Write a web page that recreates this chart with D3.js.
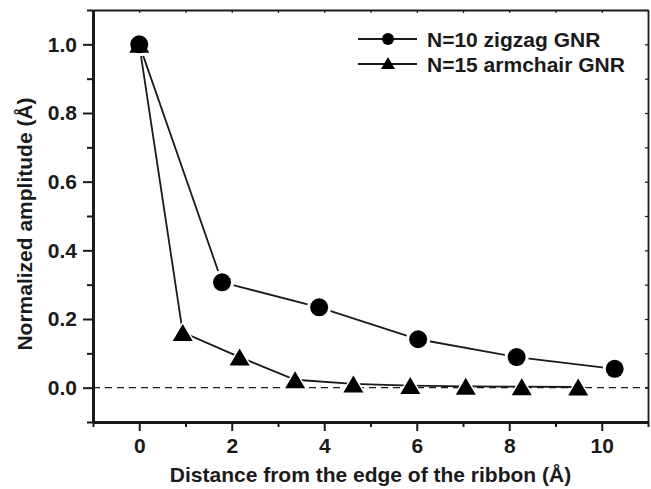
<!DOCTYPE html>
<html>
<head>
<meta charset="utf-8">
<script src="https://cdn.jsdelivr.net/npm/d3@7"></script>
<style>
  body { margin: 0; background: #fff; }
  text { font-family: "Liberation Sans", Arial, Helvetica, sans-serif; font-weight: bold; fill: #1a1a1a; }
</style>
</head>
<body>
<svg id="chart" width="651" height="489"></svg>
<script>
// data
const zigzagX = [0, 1.79, 3.89, 6.03, 8.16, 10.28];
const zigzagY = [1.0, 0.307, 0.234, 0.141, 0.089, 0.055];
const armchairX = [0, 0.94, 2.17, 3.37, 4.63, 5.86, 7.06, 8.27, 9.49];
const armchairY = [1.0, 0.161, 0.089, 0.023, 0.011, 0.006, 0.004, 0.003, 0.002];
const xTicks = [0, 2, 4, 6, 8, 10];
const yTicks = [0.0, 0.2, 0.4, 0.6, 0.8, 1.0];
const seriesNames = ['N=10 zigzag GNR', 'N=15 armchair GNR'];

const svg = d3.select('#chart');
const plotL = 93, plotR = 648, plotT = 10, plotB = 422;

const x = d3.scaleLinear().domain([-1, 11]).range([plotL, plotR]);
const y = d3.scaleLinear().domain([-0.1, 1.1]).range([plotB, plotT]);

const ink = '#1a1a1a';

// ── Axes ──────────────────────────────────────────────
const xMinor = d3.range(-1, 11.01, 1).filter(v => v % 2 !== 0);
const yMinor = d3.range(-0.1, 1.101, 0.2).map(v => +v.toFixed(1));

function styleAxis(g, w) {
  g.select('.domain').attr('stroke', ink).attr('stroke-width', w);
  g.selectAll('.tick line').attr('stroke', ink).attr('stroke-width', 2);
}

// bottom
const gx = svg.append('g').attr('transform', `translate(0,${plotB})`)
  .call(d3.axisBottom(x).tickValues(xTicks).tickSize(9).tickSizeOuter(0).tickPadding(6).tickFormat(d3.format('d')));
styleAxis(gx, 3);
gx.selectAll('.tick text').attr('font-size', 21).attr('fill', ink).attr('dy', '0.75em');
svg.append('g').attr('transform', `translate(0,${plotB})`)
  .call(d3.axisBottom(x).tickValues(xMinor).tickSize(5).tickSizeOuter(0).tickFormat(''))
  .call(g => { g.select('.domain').remove(); g.selectAll('line').attr('stroke', ink).attr('stroke-width', 2); });

// left
const gy = svg.append('g').attr('transform', `translate(${plotL},0)`)
  .call(d3.axisLeft(y).tickValues(yTicks).tickSize(10).tickSizeOuter(0).tickPadding(6).tickFormat(d3.format('.1f')));
styleAxis(gy, 3);
gy.selectAll('.tick text').attr('font-size', 21).attr('fill', ink);
svg.append('g').attr('transform', `translate(${plotL},0)`)
  .call(d3.axisLeft(y).tickValues(yMinor).tickSize(6).tickSizeOuter(0).tickFormat(''))
  .call(g => { g.select('.domain').remove(); g.selectAll('line').attr('stroke', ink).attr('stroke-width', 2); });

// top and right (mirror, small inward ticks)
svg.append('g').attr('transform', `translate(0,${plotT})`)
  .call(d3.axisTop(x).tickValues(d3.range(-1, 11.01, 1)).tickSize(-3).tickSizeOuter(0).tickFormat(''))
  .call(g => { g.select('.domain').attr('stroke', ink).attr('stroke-width', 1.8); g.selectAll('line').attr('stroke', ink).attr('stroke-width', 1.2); });
svg.append('g').attr('transform', `translate(${plotR},0)`)
  .call(d3.axisRight(y).tickValues(d3.range(-0.1, 1.101, 0.1).map(v => +v.toFixed(1))).tickSize(-3).tickSizeOuter(0).tickFormat(''))
  .call(g => { g.select('.domain').attr('stroke', ink).attr('stroke-width', 1.8); g.selectAll('line').attr('stroke', ink).attr('stroke-width', 1.2); });

// zero reference line
svg.append('line')
  .attr('x1', plotL).attr('x2', plotR)
  .attr('y1', y(0)).attr('y2', y(0))
  .attr('stroke', ink).attr('stroke-width', 1.2)
  .attr('stroke-dasharray', '7,5');

// ── Series ────────────────────────────────────────────
const line = d3.line().x(d => x(d[0])).y(d => y(d[1]));
const zig = zigzagX.map((v, i) => [v, zigzagY[i]]);
const arm = armchairX.map((v, i) => [v, armchairY[i]]);

function triPath(w, h) {
  return `M0,${-h / 2}L${w / 2},${h / 2}L${-w / 2},${h / 2}Z`;
}

[zig, arm].forEach(data => {
  svg.append('path').datum(data)
    .attr('d', line).attr('fill', 'none')
    .attr('stroke', ink).attr('stroke-width', 1.8);
});

// white halos then markers
svg.selectAll('.zig-halo').data(zig).enter().append('circle')
  .attr('cx', d => x(d[0])).attr('cy', d => y(d[1])).attr('r', 12).attr('fill', '#fff');
svg.selectAll('.arm-halo').data(arm).enter().append('path')
  .attr('transform', d => `translate(${x(d[0])},${y(d[1])})`)
  .attr('d', triPath(27, 23)).attr('fill', '#fff');

svg.selectAll('.zig-dot').data(zig).enter().append('circle')
  .attr('cx', d => x(d[0])).attr('cy', d => y(d[1])).attr('r', 9).attr('fill', '#000');
svg.selectAll('.arm-dot').data(arm).enter().append('path')
  .attr('transform', d => `translate(${x(d[0])},${y(d[1])})`)
  .attr('d', triPath(20, 17)).attr('fill', '#000');

// ── Legend ────────────────────────────────────────────
const legend = svg.append('g');
seriesNames.forEach((name, i) => {
  const ly = 39 + i * 25;
  legend.append('line').attr('x1', 358).attr('x2', 417).attr('y1', ly).attr('y2', ly)
    .attr('stroke', ink).attr('stroke-width', 1.8);
  if (i === 0) {
    legend.append('circle').attr('cx', 388).attr('cy', ly).attr('r', 6).attr('fill', '#000');
  } else {
    legend.append('path').attr('transform', `translate(388,${ly - 1})`).attr('d', triPath(14, 12)).attr('fill', '#000');
  }
  legend.append('text').attr('x', 427).attr('y', ly).attr('dy', '0.36em')
    .attr('font-size', 21).text(name);
});

// ── Axis titles ───────────────────────────────────────
svg.append('text')
  .attr('x', (plotL + plotR) / 2).attr('y', 482)
  .attr('text-anchor', 'middle').attr('font-size', 21)
  .text('Distance from the edge of the ribbon (Å)');

svg.append('text')
  .attr('transform', `translate(32,${(plotT + plotB) / 2 + 8}) rotate(-90)`)
  .attr('text-anchor', 'middle').attr('font-size', 21)
  .text('Normalized amplitude (Å)');
</script>
</body>
</html>
